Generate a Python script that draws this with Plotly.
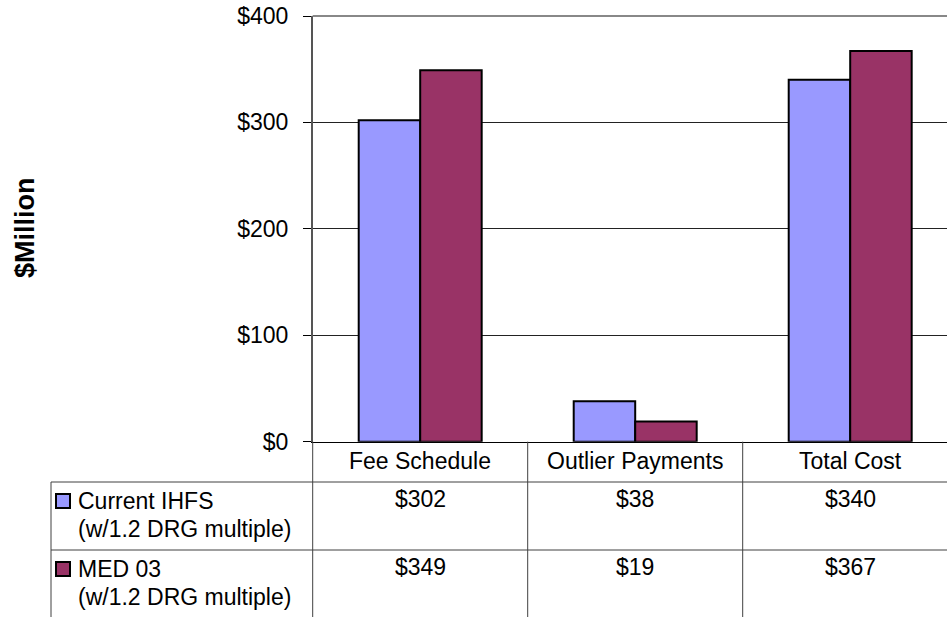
import plotly.graph_objects as go

# data
categories = ["Fee Schedule", "Outlier Payments", "Total Cost"]
series_names = ["Current IHFS", "MED 03"]
series_notes = ["(w/1.2 DRG multiple)", "(w/1.2 DRG multiple)"]
current_ihfs = [302, 38, 340]
med_03 = [349, 19, 367]
tick_values = [0, 100, 200, 300, 400]
tick_labels = ["$0", "$100", "$200", "$300", "$400"]

W, H = 947, 617
BLUE = "#9999FF"
MAROON = "#993366"
LINE = "#404040"
FONT = "Liberation Sans, Arial, sans-serif"
FS = 23


def px(x):
    return x / W


def py(y):
    return 1 - y / H


fig = go.Figure()
for name, vals, col in [(series_names[0], current_ihfs, BLUE), (series_names[1], med_03, MAROON)]:
    fig.add_trace(go.Bar(
        x=list(range(len(categories))),
        y=vals,
        name=name,
        marker=dict(color=col, line=dict(color="black", width=2)),
    ))

# plot area (pixels): left 312.7, top 16, bottom 441.7, 215px per category
left, top, bottom, cat_w = 312.7, 16, 441.7, 215
fig.update_layout(
    width=W, height=H,
    margin=dict(l=0, r=0, t=0, b=0, autoexpand=False),
    paper_bgcolor="white", plot_bgcolor="white",
    barmode="group", bargap=0.428, bargroupgap=0,
    showlegend=False,
    font=dict(family=FONT, size=FS, color="black"),
    xaxis=dict(
        domain=[px(left), 1],
        range=[-0.5, -0.5 + (W - left) / cat_w],
        showticklabels=False, showgrid=False, zeroline=False,
        showline=True, linecolor="black", linewidth=1, ticks="",
        automargin=False,
    ),
    yaxis=dict(
        domain=[py(bottom), py(top)],
        range=[0, 400],
        tickvals=tick_values, ticktext=tick_labels,
        ticks="outside", ticklen=8, tickcolor="black", tickwidth=1,
        ticklabelstandoff=10, ticklabeloverflow="allow",
        showgrid=True, gridcolor="#222222", gridwidth=1,
        zeroline=False,
        showline=True, linecolor="#555555", linewidth=1.5,
        tickfont=dict(size=FS),
        automargin=False,
    ),
)

shapes = []
# top border of plot area (gray)
shapes.append(dict(type="line", xref="paper", yref="paper", x0=px(left), x1=1,
                   y0=py(top), y1=py(top), line=dict(color="#888888", width=2)))

# data table lines
row_top = 482
row_h = 68
for y in [row_top, row_top + row_h]:
    shapes.append(dict(type="line", xref="paper", yref="paper", x0=px(51), x1=1,
                       y0=py(y), y1=py(y), line=dict(color=LINE, width=1)))
shapes.append(dict(type="line", xref="paper", yref="paper", x0=px(51), x1=px(51),
                   y0=py(row_top), y1=0, line=dict(color=LINE, width=1)))
shapes.append(dict(type="line", xref="paper", yref="paper", x0=px(left), x1=px(left),
                   y0=py(bottom), y1=0, line=dict(color=LINE, width=1)))
for i in range(1, len(categories)):
    shapes.append(dict(type="line", xref="x", yref="paper", x0=i - 0.5, x1=i - 0.5,
                       y0=py(bottom), y1=0, line=dict(color=LINE, width=1)))

annotations = []
# category header
for i, c in enumerate(categories):
    annotations.append(dict(x=i, y=py(461), xref="x", yref="paper", text=c, showarrow=False,
                            xanchor="center", yanchor="middle", font=dict(size=FS)))

# rows: legend key + label + values
for r, (name, note, vals, col) in enumerate(zip(series_names, series_notes,
                                                [current_ihfs, med_03], [BLUE, MAROON])):
    y1 = row_top + 19 + r * row_h
    y2 = y1 + 28
    shapes.append(dict(type="rect", xref="paper", yref="paper",
                       x0=px(56), x1=px(70), y0=py(y1 - 7), y1=py(y1 + 7),
                       fillcolor=col, line=dict(color="black", width=2)))
    annotations.append(dict(x=px(76), y=py(y1), xref="paper", yref="paper", text=name,
                            showarrow=False, xanchor="left", yanchor="middle"))
    annotations.append(dict(x=px(76), y=py(y2), xref="paper", yref="paper", text=note,
                            showarrow=False, xanchor="left", yanchor="middle"))
    for i, v in enumerate(vals):
        annotations.append(dict(x=i, y=py(y1 - 2), xref="x", yref="paper", text=f"${v}",
                                showarrow=False, xanchor="center", yanchor="middle"))

# y-axis title
annotations.append(dict(x=px(25), y=py(228), xref="paper", yref="paper", text="<b>$Million</b>",
                        textangle=-90, showarrow=False, xanchor="center", yanchor="middle",
                        font=dict(size=27)))

fig.update_layout(shapes=shapes, annotations=annotations)
# drop the default 8px body margin so the figure fills the window exactly
fig.write_html("out.html", config={"displayModeBar": False},
               post_script="document.body.style.margin='0';document.body.style.overflow='hidden';")
